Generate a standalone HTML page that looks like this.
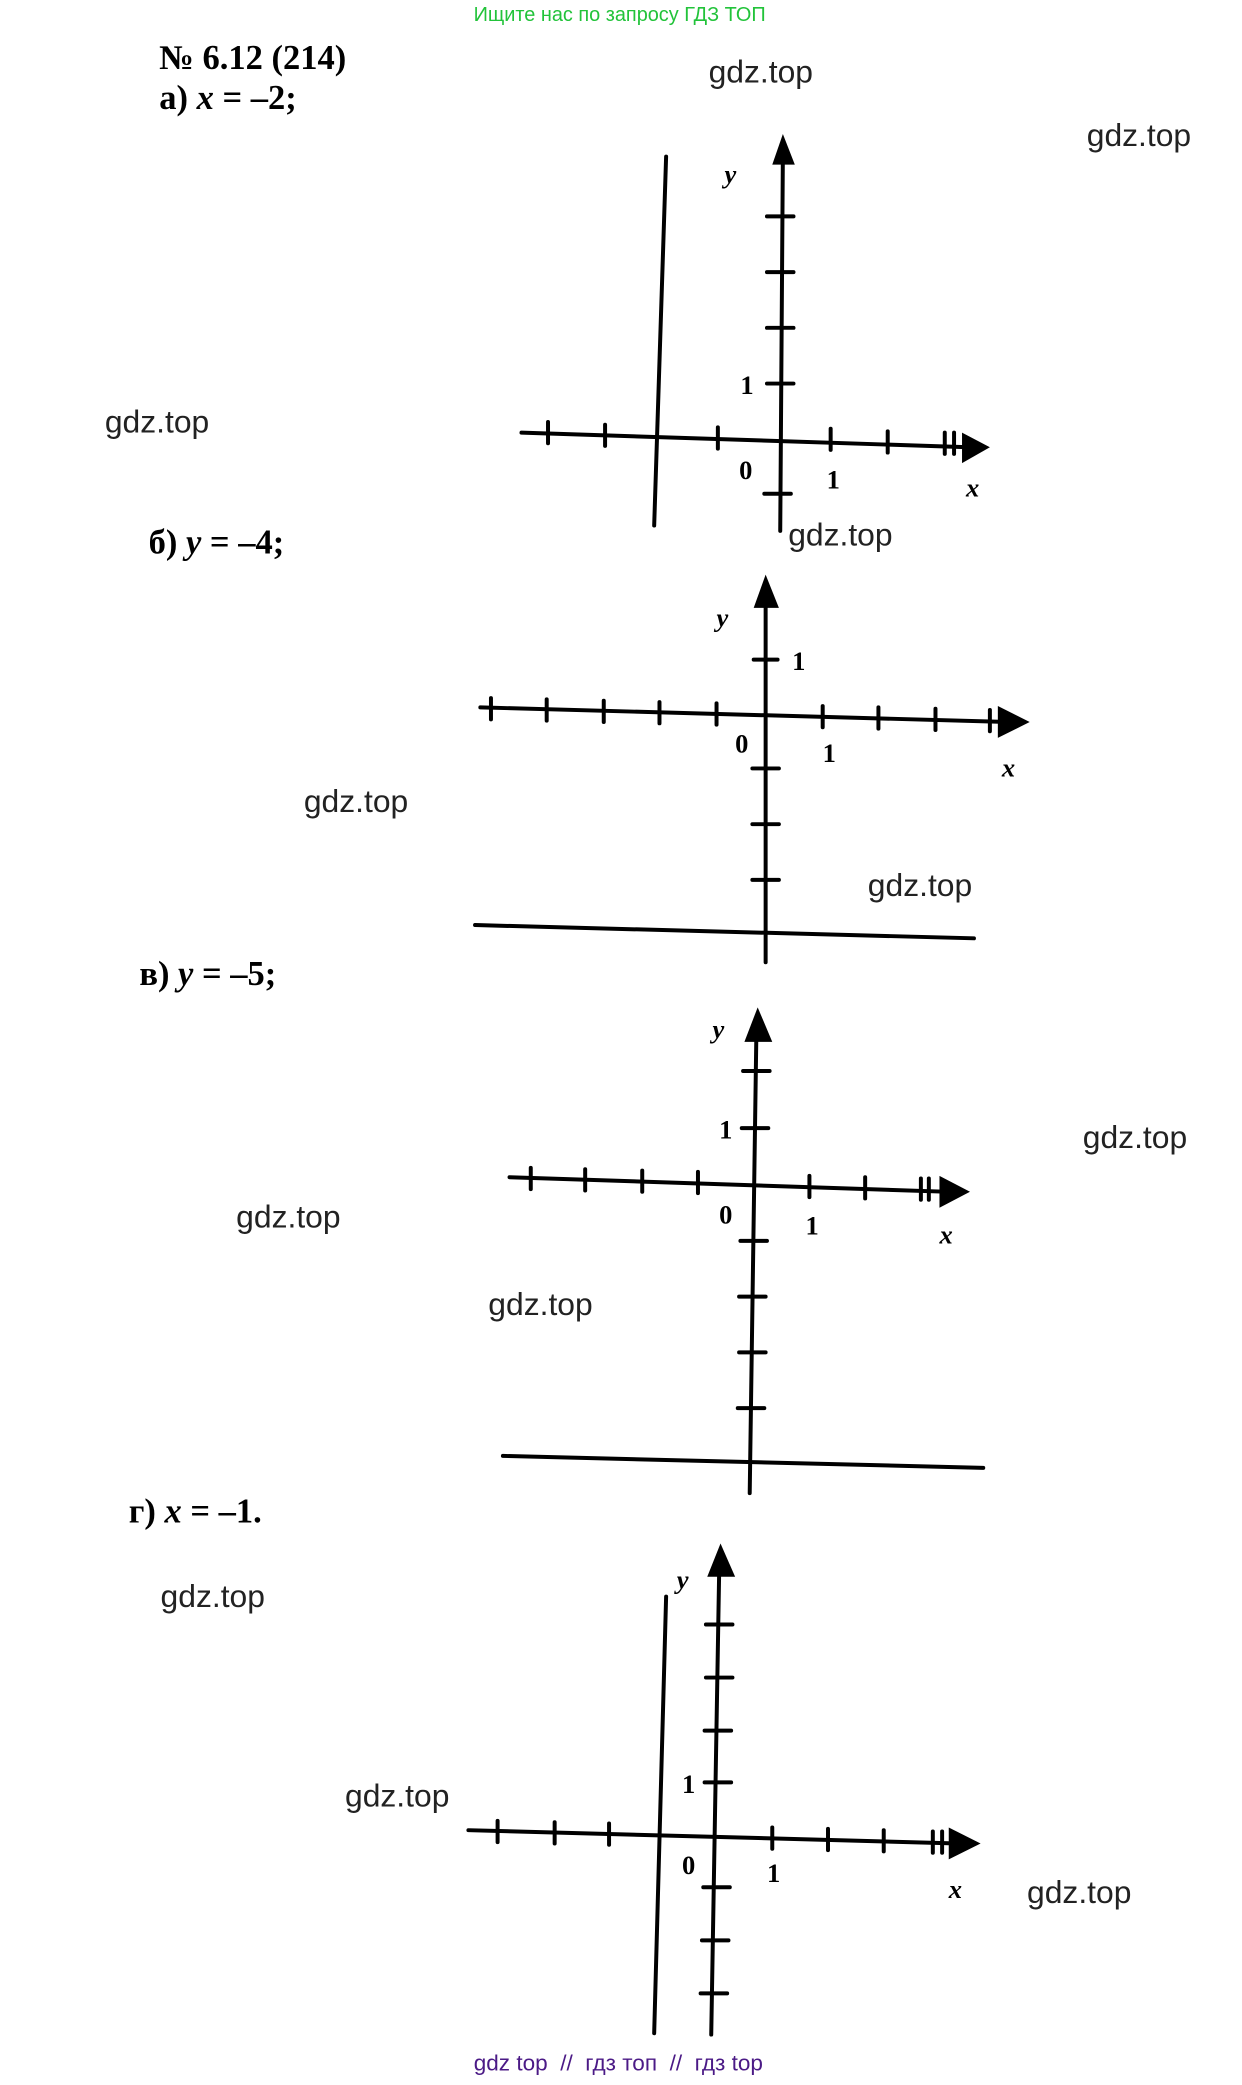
<!DOCTYPE html>
<html><head><meta charset="utf-8"><style>
html,body{margin:0;padding:0;background:#fff;}
svg{display:block;}
.t{font-family:"Liberation Serif",serif;font-weight:bold;font-size:26px;fill:#000;}
.i{font-style:italic;}
.w{font-family:"Liberation Sans",sans-serif;font-size:24px;fill:#222;}
.l{font-family:"Liberation Serif",serif;font-size:20px;fill:#000;font-weight:bold;}
</style></head><body>
<svg width="1242" height="2085" viewBox="0 0 936 1571" preserveAspectRatio="none" xmlns="http://www.w3.org/2000/svg">
<text x="467" y="16" text-anchor="middle" font-family="Liberation Sans,sans-serif" font-size="15" fill="#22c33a">Ищите нас по запросу ГДЗ ТОП</text>
<text class="t" x="120" y="52">№ 6.12 (214)</text>
<text class="t" x="120" y="82">а) <tspan class="i">x</tspan> = –2;</text>
<text class="t" x="112" y="417">б) <tspan class="i">y</tspan> = –4;</text>
<text class="t" x="105" y="742">в) <tspan class="i">y</tspan> = –5;</text>
<text class="t" x="97" y="1147">г) <tspan class="i">x</tspan> = –1.</text>

<g class="w">
<text x="534" y="62">gdz.top</text><text x="819" y="110">gdz.top</text>
<text x="79" y="326">gdz.top</text><text x="594" y="411">gdz.top</text>
<text x="229" y="612">gdz.top</text><text x="654" y="675">gdz.top</text>
<text x="816" y="865">gdz.top</text><text x="178" y="925">gdz.top</text>
<text x="368" y="991">gdz.top</text><text x="121" y="1211">gdz.top</text>
<text x="260" y="1361">gdz.top</text><text x="774" y="1434">gdz.top</text>
</g>

<g stroke="#000" stroke-width="3" fill="none" stroke-linecap="round">
<line x1="588" y1="400" x2="590" y2="115"/>
<line x1="393" y1="326" x2="730" y2="337"/>
<line x1="502" y1="118" x2="493" y2="396"/>
<path d="M413 318v16M456 320v16M541 322v16M626 323v16M669 325v16M712 326v16M719 326v16"/>
<path d="M578 163h20M578 205h20M578 247h20M578 289h20M576 372h20"/>
<line x1="577" y1="725" x2="577" y2="455"/>
<line x1="362" y1="533" x2="760" y2="544"/>
<line x1="358" y1="697" x2="734" y2="707"/>
<path d="M370 526v16M412 527v16M455 528v16M497 529v16M540 530v16M620 532v16M662 533v16M705 534v16M746 535v16"/>
<path d="M568 497h18M567 579h20M567 621h20M567 663h20"/>
<line x1="565" y1="1125" x2="570" y2="780"/>
<line x1="384" y1="887" x2="715" y2="898"/>
<line x1="379" y1="1097" x2="741" y2="1106"/>
<path d="M400 880v16M441 881v16M484 882v16M526 883v16M610 886v16M652 887v16M694 888v16M700 888v16"/>
<path d="M560 807h20M559 850h20M558 935h20M557 977h20M557 1019h20M556 1061h20"/>
<line x1="536" y1="1533" x2="542" y2="1183"/>
<line x1="353" y1="1379" x2="722" y2="1389"/>
<line x1="502" y1="1203" x2="493" y2="1532"/>
<path d="M375 1372v16M418 1373v16M459 1374v16M582 1377v16M624 1378v16M666 1379v16M703 1380v16M710 1380v16"/>
<path d="M532 1224h20M532 1264h20M531 1304h20M531 1343h20M530 1422h20M529 1462h20M528 1502h20"/>
</g>
<g fill="#000">
<polygon points="590,101 582,124 599,124"/>
<polygon points="746,337 725,326 725,349"/>
<polygon points="577,433 568,458 587,458"/>
<polygon points="776,544 752,532 752,556"/>
<polygon points="571,759 561,785 582,785"/>
<polygon points="731,898 708,886 708,910"/>
<polygon points="543,1163 533,1188 554,1188"/>
<polygon points="739,1389 715,1377 715,1401"/>
</g>
<g class="l">
<text x="546" y="138" font-style="italic">y</text><text x="558" y="297">1</text><text x="557" y="361">0</text><text x="623" y="368">1</text><text x="728" y="374" font-style="italic">x</text>
<text x="540" y="472" font-style="italic">y</text><text x="597" y="505">1</text><text x="554" y="567">0</text><text x="620" y="574">1</text><text x="755" y="585" font-style="italic">x</text>
<text x="537" y="782" font-style="italic">y</text><text x="542" y="858">1</text><text x="542" y="922">0</text><text x="607" y="930">1</text><text x="708" y="937" font-style="italic">x</text>
<text x="510" y="1197" font-style="italic">y</text><text x="514" y="1351">1</text><text x="514" y="1412">0</text><text x="578" y="1418">1</text><text x="715" y="1430" font-style="italic">x</text>
</g>
<text x="466" y="1560" text-anchor="middle" font-family="Liberation Sans,sans-serif" font-size="17" fill="#4b1a86" xml:space="preserve">gdz top  //  гдз топ  //  гдз top</text>
</svg>
</body></html>
